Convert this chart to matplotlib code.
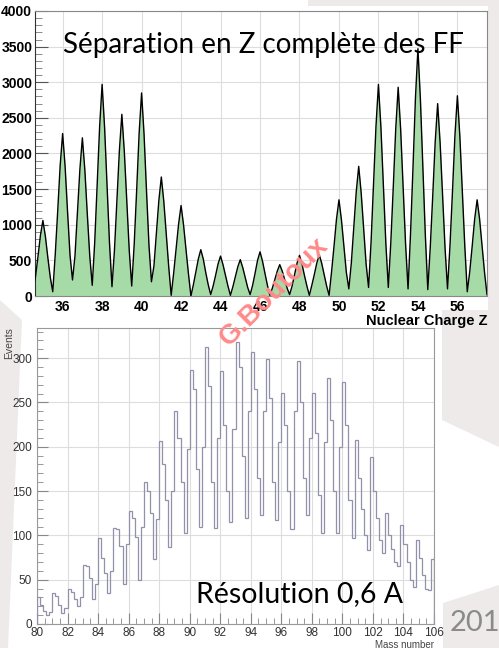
import numpy as np
import matplotlib
matplotlib.use('Agg')
import matplotlib.pyplot as plt
from matplotlib.patches import Polygon
from matplotlib.ticker import MultipleLocator

W, H = 499, 648

# Spectre en charge nucléaire : un point tous les 1/8 d'unité à partir de Z = 34.5
z_start = 34.5
z_step = 0.125
z_counts = [
    [120, 270, 550, 850, 1060, 840, 540, 260],        # Z=35
    [60, 580, 1190, 1830, 2280, 1820, 1180, 570],     # Z=36
    [225, 560, 1160, 1780, 2220, 1770, 1150, 560],    # Z=37
    [150, 750, 1550, 2380, 2970, 2370, 1540, 740],    # Z=38
    [130, 640, 1330, 2040, 2550, 2030, 1320, 640],    # Z=39
    [140, 720, 1480, 2280, 2850, 2270, 1470, 710],    # Z=40
    [200, 420, 870, 1340, 1670, 1330, 860, 410],      # Z=41
    [10, 320, 660, 1010, 1270, 1000, 650, 310],       # Z=42
    [0, 160, 340, 520, 650, 520, 330, 160],           # Z=43
    [20, 140, 290, 450, 560, 440, 290, 140],          # Z=44
    [10, 130, 270, 410, 510, 400, 260, 120],          # Z=45
    [20, 150, 320, 500, 620, 490, 320, 150],          # Z=46
    [10, 110, 230, 350, 440, 350, 230, 110],          # Z=47
    [20, 140, 300, 460, 570, 450, 290, 140],          # Z=48
    [10, 150, 300, 460, 580, 460, 300, 140],          # Z=49
    [10, 340, 700, 1080, 1350, 1070, 700, 330],       # Z=50
    [100, 460, 950, 1460, 1820, 1450, 940, 450],      # Z=51
    [120, 750, 1550, 2380, 2970, 2370, 1540, 740],    # Z=52
    [120, 740, 1520, 2340, 2930, 2340, 1520, 730],    # Z=53
    [100, 870, 1800, 2780, 3470, 2770, 1800, 860],    # Z=54
    [90, 680, 1400, 2160, 2700, 2150, 1400, 670],     # Z=55
    [100, 710, 1460, 2250, 2810, 2240, 1460, 700],    # Z=56
    [60, 340, 700, 1080, 1350, 1080, 700, 330],       # Z=57
]
z_tail = 20
z_ticks = list(range(36, 57, 2))

# Spectre en masse : bins de 0.2 à partir de A = 80
a_start = 80.0
a_width = 0.2
a_counts = [
    [30, 21, 15, 10, 14],       # A=80
    [35, 32, 22, 12, 18],       # A=81
    [40, 36, 28, 20, 30],       # A=82
    [67, 65, 52, 28, 45],       # A=83
    [97, 75, 58, 35, 60],       # A=84
    [108, 107, 88, 45, 90],     # A=85
    [128, 120, 98, 50, 110],    # A=86
    [160, 150, 125, 73, 118],   # A=87
    [206, 180, 140, 87, 150],   # A=88
    [240, 210, 160, 103, 197],  # A=89
    [287, 265, 175, 110, 200],  # A=90
    [312, 268, 160, 108, 210],  # A=91
    [285, 225, 150, 115, 220],  # A=92
    [318, 290, 190, 120, 240],  # A=93
    [307, 265, 165, 123, 240],  # A=94
    [299, 255, 160, 117, 205],  # A=95
    [261, 225, 150, 107, 240],  # A=96
    [297, 250, 165, 123, 210],  # A=97
    [261, 215, 145, 103, 205],  # A=98
    [278, 230, 150, 103, 200],  # A=99
    [273, 225, 140, 97, 208],   # A=100
    [165, 130, 100, 83, 188],   # A=101
    [150, 120, 95, 80, 125],    # A=102
    [100, 85, 70, 65, 112],     # A=103
    [90, 70, 50, 42, 95],       # A=104
    [75, 55, 40, 38, 73],       # A=105
]
a_ticks = list(range(80, 107, 2))


def box(l, t, r, b):
    return [l / W, 1 - b / H, (r - l) / W, (b - t) / H]


def poly(pts, color):
    p = Polygon([(x / W, 1 - y / H) for x, y in pts], closed=True,
                transform=fig.transFigure, facecolor=color, edgecolor='none', zorder=0)
    fig.add_artist(p)


fig = plt.figure(figsize=(W / 100, H / 100), dpi=100, facecolor='white')

# fond de la diapo
gris = '#eeeaea'
poly([(308, 0), (499, 0), (499, 330), (488, 330), (488, 6), (308, 6)], gris)
poly([(442, 310), (499, 310), (499, 447), (442, 420)], gris)
poly([(443, 603), (499, 585), (499, 648), (443, 648)], gris)
poly([(0, 300), (22, 320), (8, 648), (0, 648)], gris)

# ---- spectre en Z ----
ax1 = fig.add_axes(box(35, 11, 487, 296))
yz = np.array(sum(z_counts, []) + [z_tail])
xz = z_start + z_step * np.arange(len(yz))
ax1.fill_between(xz, yz, color='#a6dba8', lw=0, zorder=2)
ax1.plot(xz, yz, color='black', lw=1.0, zorder=3)
ax1.set_xlim(34.6, 57.5)
ax1.set_ylim(0, 4000)
ax1.set_xticks(z_ticks)
ax1.yaxis.set_major_locator(MultipleLocator(500))
ax1.yaxis.set_minor_locator(MultipleLocator(100))
ax1.xaxis.set_minor_locator(MultipleLocator(0.5))
ax1.grid(True, which='major', color='#dddddd', lw=0.8, zorder=0)
ax1.tick_params(axis='both', which='both', direction='in', labelsize=10)
ax1.tick_params(axis='y', which='major', length=9, color='#555555', pad=2)
ax1.tick_params(axis='y', which='minor', length=5, color='#777777')
ax1.tick_params(axis='x', which='both', length=0, pad=3)
for lab in ax1.get_xticklabels() + ax1.get_yticklabels():
    lab.set_fontfamily('Liberation Sans')
    lab.set_fontweight('bold')
for s in ax1.spines.values():
    s.set_color('#888888')
    s.set_linewidth(0.8)
ax1.spines['left'].set_color('#333333')
ax1.set_axisbelow(True)
fig.text(487 / W, 1 - 321 / H, 'Nuclear Charge Z', ha='right', va='center',
         fontsize=10.5, fontweight='bold', family='Liberation Sans')
fig.text(263 / W, 1 - 45 / H, 'Séparation en Z complète des FF', ha='center', va='center',
         fontsize=20, family='Lato', color='black', zorder=10)

# ---- spectre en masse ----
ax2 = fig.add_axes(box(37, 328, 434, 624))
edges = a_start + a_width * np.arange(len(a_counts) * 5 + 1)
ax2.stairs(np.array(sum(a_counts, [])), edges, color='#9191ab', lw=0.9, zorder=3)
ax2.set_xlim(80, 106)
ax2.set_ylim(0, 334)
ax2.set_xticks(a_ticks)
ax2.xaxis.set_minor_locator(MultipleLocator(0.5))
ax2.yaxis.set_major_locator(MultipleLocator(50))
ax2.yaxis.set_minor_locator(MultipleLocator(10))
ax2.grid(True, which='major', color='#dddddd', lw=0.8, zorder=0)
ax2.tick_params(axis='both', which='both', direction='in', labelsize=8.5,
                labelcolor='#333333', color='#888888')
ax2.tick_params(axis='both', which='major', length=8)
ax2.tick_params(axis='both', which='minor', length=4)
ax2.tick_params(axis='x', pad=2)
for lab in ax2.get_xticklabels() + ax2.get_yticklabels():
    lab.set_fontfamily(['Liberation Sans Narrow', 'Liberation Sans'])
for s in ax2.spines.values():
    s.set_color('#999999')
    s.set_linewidth(0.8)
ax2.set_axisbelow(True)
# le "0" de l'axe Y remonte un peu pour laisser la place au "80"
fig.canvas.draw()
ax2.get_yticklabels()[0].set_verticalalignment('bottom')

fig.text(9 / W, 1 - 343 / H, 'Events', rotation=90, ha='center', va='center',
         fontsize=7.5, color='#444444', family=['Liberation Sans Narrow', 'Liberation Sans'])
fig.text(434 / W, 1 - 645 / H, 'Mass number', ha='right', va='center',
         fontsize=7, color='#444444', family=['Liberation Sans Narrow', 'Liberation Sans'])
fig.text(300 / W, 1 - 594 / H, 'Résolution 0,6 A', ha='center', va='center',
         fontsize=20.5, family='Lato', color='black', zorder=10)

fig.text(450 / W, 1 - 623 / H, '2013', ha='left', va='center',
         fontsize=21, family='Lato', color='#8a8a8a')

fig.text(274 / W, 1 - 292 / H, 'G.Boutoux', rotation=45, ha='center', va='center',
         fontsize=20, fontweight='bold', family='Liberation Sans', color='#ff8a8a', zorder=20)

fig.savefig('out.png', dpi=100, facecolor='white')
